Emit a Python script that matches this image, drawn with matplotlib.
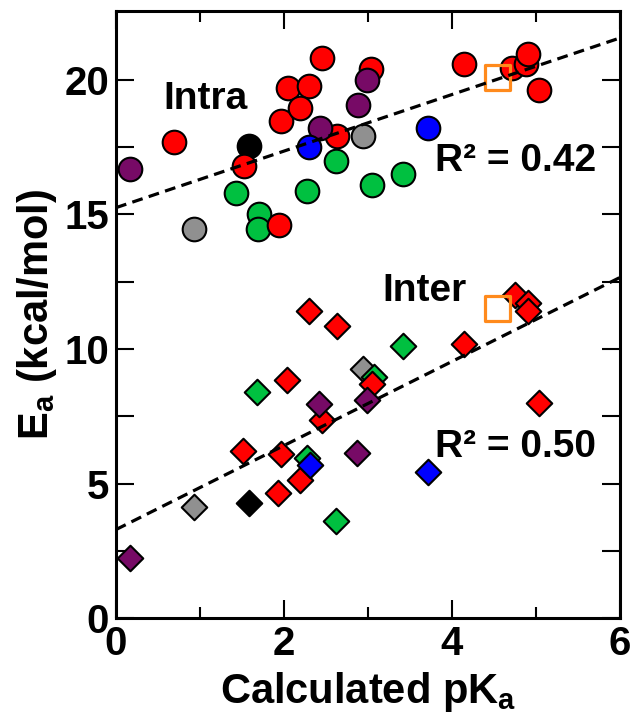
import matplotlib
matplotlib.use("Agg")
import matplotlib.pyplot as plt
import numpy as np

plt.rcParams['font.family'] = ['Liberation Sans', 'DejaVu Sans']
plt.rcParams['font.weight'] = 'bold'
plt.rcParams['mathtext.fontset'] = 'custom'
plt.rcParams['mathtext.rm'] = 'Liberation Sans:bold'
plt.rcParams['mathtext.default'] = 'rm'

# ---------------- data ----------------
# Intramolecular (circles)
intra_red_x = [0.69, 1.53, 1.94, 1.97, 2.05, 2.30, 2.19, 2.63, 2.45, 3.04, 4.14, 4.72, 4.88, 4.91, 5.04]
intra_red_y = [17.7, 16.8, 14.6, 18.45, 19.7, 19.75, 18.95, 17.9, 20.8, 20.4, 20.6, 20.45, 20.6, 20.95, 19.6]
intra_purple_x = [0.17, 2.43, 2.99, 2.88]
intra_purple_y = [16.7, 18.2, 20.0, 19.05]
intra_black_x = [1.58]
intra_black_y = [17.55]
intra_gray_x = [0.93, 2.94]
intra_gray_y = [14.45, 17.9]
intra_green_x = [1.43, 1.70, 1.69, 2.62, 2.28, 3.05, 3.42]
intra_green_y = [15.8, 15.0, 14.45, 17.0, 15.85, 16.1, 16.5]
intra_blue_x = [2.30, 3.71]
intra_blue_y = [17.5, 18.2]
intra_ref_x = [4.54]
intra_ref_y = [20.1]

# Intermolecular (diamonds)
inter_red_x = [1.51, 2.04, 1.97, 1.93, 2.19, 2.30, 2.63, 2.45, 3.05, 4.14, 4.75, 4.91, 4.91, 5.04]
inter_red_y = [6.2, 8.85, 6.1, 4.65, 5.15, 11.4, 10.85, 7.35, 8.7, 10.2, 12.0, 11.7, 11.4, 8.0]
inter_purple_x = [0.17, 2.42, 2.87, 2.99]
inter_purple_y = [2.25, 7.95, 6.15, 8.1]
inter_black_x = [1.58]
inter_black_y = [4.3]
inter_gray_x = [0.93, 2.94]
inter_gray_y = [4.15, 9.25]
inter_green_x = [1.68, 2.27, 2.62, 3.07, 3.42]
inter_green_y = [8.4, 5.95, 3.6, 8.95, 10.1]
inter_blue_x = [2.31, 3.71]
inter_blue_y = [5.7, 5.45]
inter_ref_x = [4.54]
inter_ref_y = [11.5]

# Linear fits (slope, intercept)
intra_fit = (1.05, 15.25)
inter_fit = (1.56, 3.30)

xticks = [0, 2, 4, 6]
yticks = [0, 5, 10, 15, 20]

# ---------------- styles ----------------
RED = '#FF0000'
GREEN = '#00C040'
BLUE = '#0000FF'
PURPLE = '#770A66'
GRAY = '#909090'
BLACK = '#000000'
ORANGE = '#FF8A1C'

fig = plt.figure(figsize=(6.32, 7.15), dpi=100)
ax = fig.add_axes([0.1835, 0.135, 0.7975, 0.8496])

circ_s = 17 ** 2
dia_s = 13 ** 2
ew = 1.5

groups_intra = [
    (intra_gray_x, intra_gray_y, GRAY),
    (intra_black_x, intra_black_y, BLACK),
    (intra_green_x, intra_green_y, GREEN),
    (intra_red_x, intra_red_y, RED),
    (intra_purple_x, intra_purple_y, PURPLE),
    (intra_blue_x, intra_blue_y, BLUE),
]
groups_inter = [
    (inter_gray_x, inter_gray_y, GRAY),
    (inter_black_x, inter_black_y, BLACK),
    (inter_green_x, inter_green_y, GREEN),
    (inter_red_x, inter_red_y, RED),
    (inter_purple_x, inter_purple_y, PURPLE),
    (inter_blue_x, inter_blue_y, BLUE),
]
z = 3
for gx, gy, c in groups_intra:
    ax.scatter(gx, gy, s=circ_s, marker='o', facecolor=c, edgecolor='black',
               linewidths=ew, zorder=z)
    z += 0.1
for gx, gy, c in groups_inter:
    ax.scatter(gx, gy, s=dia_s, marker='D', facecolor=c, edgecolor='black',
               linewidths=ew, zorder=z)
    z += 0.1

ax.scatter(intra_ref_x, intra_ref_y, s=18 ** 2, marker='s', facecolor='none',
           edgecolor=ORANGE, linewidths=2.3, zorder=6)
ax.scatter(inter_ref_x, inter_ref_y, s=18 ** 2, marker='s', facecolor='none',
           edgecolor=ORANGE, linewidths=2.3, zorder=6)

xl = np.array([0, 6])
for m, b in (intra_fit, inter_fit):
    ax.plot(xl, m * xl + b, color='black', lw=2.3, linestyle=(0, (3.4, 2.0)),
            zorder=7)

ax.set_xlim(0, 6)
ax.set_ylim(0, 22.55)
ax.set_xticks(xticks)
ax.set_xticks([1, 3, 5], minor=True)
ax.set_yticks(yticks)
ax.set_yticks([2.5, 7.5, 12.5, 17.5], minor=True)

ax.tick_params(which='both', direction='in', top=True, right=True, width=1.5,
               labelsize=29, pad=5)
ax.tick_params(which='major', length=13)
ax.tick_params(axis='x', which='minor', length=8)
ax.tick_params(axis='y', which='minor', length=13)
for lab in ax.get_xticklabels() + ax.get_yticklabels():
    lab.set_fontweight('bold')
for sp in ax.spines.values():
    sp.set_linewidth(2.2)

ax.set_xlabel('Calculated pK$_a$', fontsize=30, fontweight='bold', labelpad=5)
ax.set_ylabel('E$_a$ (kcal/mol)', fontsize=30, fontweight='bold', labelpad=4)

tkw = dict(fontsize=28, fontweight='bold', ha='left', va='baseline', zorder=8)
ax.text(0.56, 18.9, 'Intra', **tkw)
ax.text(3.80, 16.6, 'R² = 0.42', **tkw)
ax.text(3.17, 11.78, 'Inter', **tkw)
ax.text(3.80, 6.0, 'R² = 0.50', **tkw)

fig.savefig('out.png', dpi=100)
